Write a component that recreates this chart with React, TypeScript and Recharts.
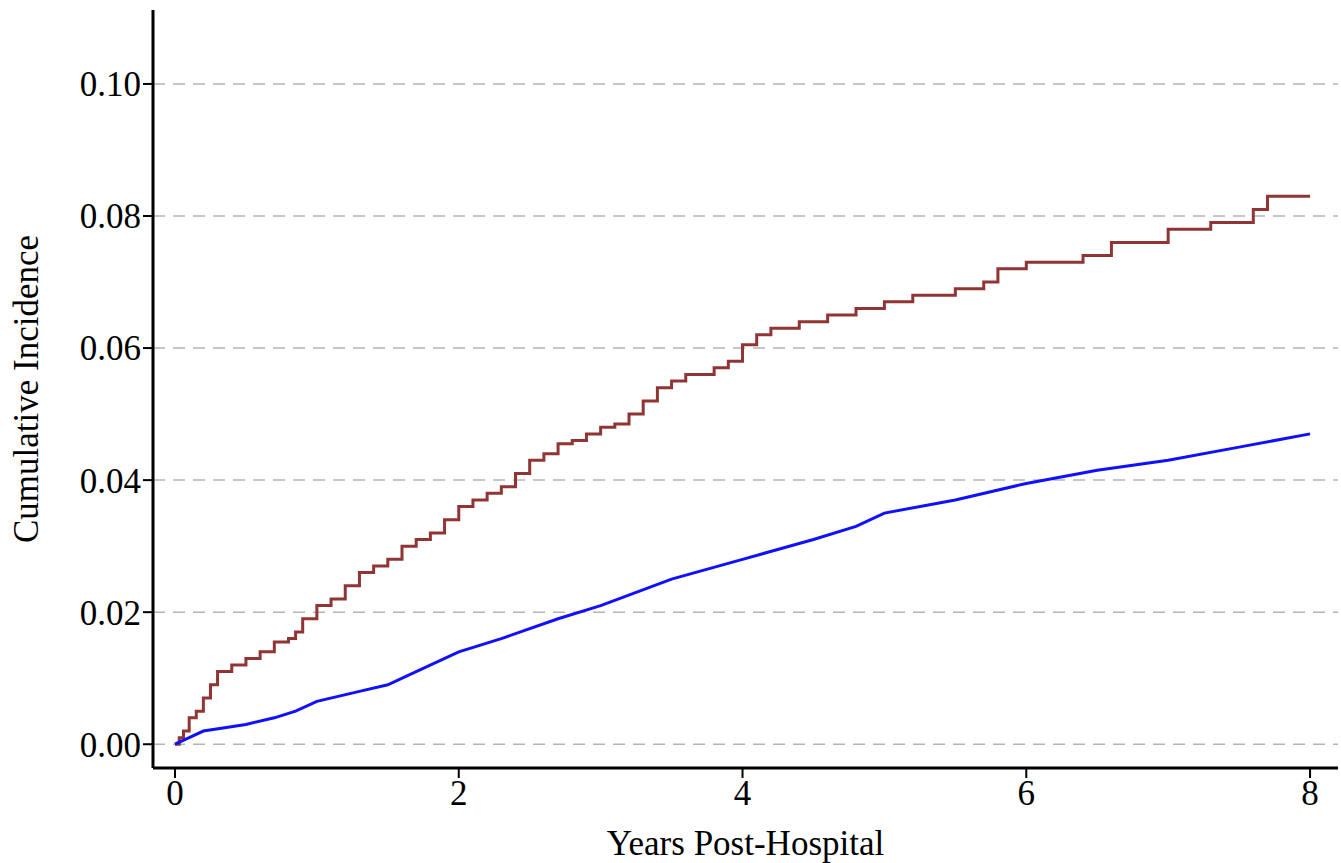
import { LineChart, Line, XAxis, YAxis, CartesianGrid } from "recharts";

const redX = [0, 0.03, 0.06, 0.1, 0.15, 0.2, 0.25, 0.3, 0.4, 0.5, 0.6, 0.7, 0.8, 0.85, 0.9, 1.0, 1.1, 1.2, 1.3, 1.4, 1.5, 1.6, 1.7, 1.8, 1.9, 2.0, 2.1, 2.2, 2.3, 2.4, 2.5, 2.6, 2.7, 2.8, 2.9, 3.0, 3.1, 3.2, 3.3, 3.4, 3.5, 3.6, 3.8, 3.9, 4.0, 4.1, 4.2, 4.4, 4.6, 4.8, 5.0, 5.2, 5.5, 5.7, 5.8, 6.0, 6.3, 6.4, 6.6, 7.0, 7.3, 7.6, 7.7, 8.0];
const redY = [0, 0.001, 0.002, 0.004, 0.005, 0.007, 0.009, 0.011, 0.012, 0.013, 0.014, 0.0155, 0.016, 0.017, 0.019, 0.021, 0.022, 0.024, 0.026, 0.027, 0.028, 0.030, 0.031, 0.032, 0.034, 0.036, 0.037, 0.038, 0.039, 0.041, 0.043, 0.044, 0.0455, 0.046, 0.047, 0.048, 0.0485, 0.050, 0.052, 0.054, 0.055, 0.056, 0.057, 0.058, 0.0605, 0.062, 0.063, 0.064, 0.065, 0.066, 0.067, 0.068, 0.069, 0.070, 0.072, 0.073, 0.073, 0.074, 0.076, 0.078, 0.079, 0.081, 0.083, 0.083];

const blueX = [0, 0.1, 0.2, 0.35, 0.5, 0.7, 0.85, 1.0, 1.3, 1.5, 1.7, 2.0, 2.3, 2.7, 3.0, 3.5, 4.0, 4.5, 4.8, 5.0, 5.5, 6.0, 6.5, 7.0, 7.5, 8.0];
const blueY = [0, 0.001, 0.002, 0.0025, 0.003, 0.004, 0.005, 0.0065, 0.008, 0.009, 0.011, 0.014, 0.016, 0.019, 0.021, 0.025, 0.028, 0.031, 0.033, 0.035, 0.037, 0.0395, 0.0415, 0.043, 0.045, 0.047];

const xTicks = [0, 2, 4, 6, 8];
const yTicks = [0, 0.02, 0.04, 0.06, 0.08, 0.1];

const redData = redX.map((x, i) => ({ x, y: redY[i] }));
const blueData = blueX.map((x, i) => ({ x, y: blueY[i] }));

const font = { fontFamily: "Liberation Serif, Times New Roman, serif", fontSize: 35, fill: "#000" };

export default function App() {
  return (
    <div style={{ position: "absolute", left: 0, top: 0, background: "#fff" }}>
      <LineChart width={1341} height={863} margin={{ top: 10, right: 3, bottom: 0, left: 0 }}>
        <CartesianGrid vertical={false} horizontalValues={yTicks} stroke="#b4b4b4" strokeWidth={1.5} strokeDasharray="12 8" />
        <XAxis
          type="number"
          dataKey="x"
          domain={[-0.155, 8.197]}
          ticks={xTicks}
          allowDataOverflow
          height={95}
          axisLine={{ stroke: "#000", strokeWidth: 3 }}
          tickLine={{ stroke: "#000", strokeWidth: 2 }}
          tickSize={10}
          tick={font}
          label={{ value: "Years Post-Hospital", position: "insideBottom", offset: 8, style: font }}
        />
        <YAxis
          type="number"
          domain={[-0.0036, 0.1112]}
          ticks={yTicks}
          allowDataOverflow
          width={153}
          axisLine={{ stroke: "#000", strokeWidth: 3 }}
          tickLine={{ stroke: "#000", strokeWidth: 2 }}
          tickSize={10}
          tick={font}
          tickFormatter={(v: number) => v.toFixed(2)}
          label={{ value: "Cumulative Incidence", angle: -90, position: "insideLeft", offset: 26, style: { ...font, textAnchor: "middle" } }}
        />
        <Line data={redData} dataKey="y" type="stepAfter" stroke="#903434" strokeWidth={3} dot={false} isAnimationActive={false} />
        <Line data={blueData} dataKey="y" type="linear" stroke="#1010ff" strokeWidth={3} dot={false} isAnimationActive={false} />
      </LineChart>
    </div>
  );
}
